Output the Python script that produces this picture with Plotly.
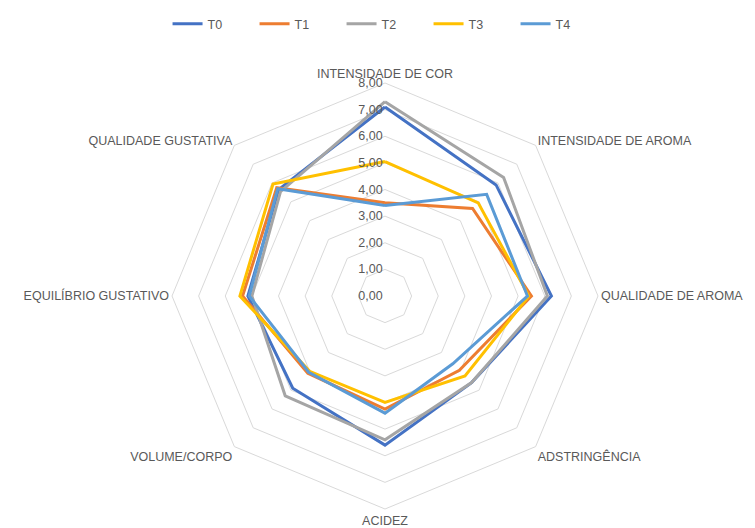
import plotly.graph_objects as go

categories = ["INTENSIDADE DE COR", "INTENSIDADE DE AROMA", "QUALIDADE DE AROMA",
              "ADSTRINGÊNCIA", "ACIDEZ", "VOLUME/CORPO",
              "EQUILÍBRIO GUSTATIVO", "QUALIDADE GUSTATIVA"]
series_names = ["T0", "T1", "T2", "T3", "T4"]
T0 = [7.10, 5.90, 6.25, 4.60, 5.60, 4.90, 5.15, 5.65]
T1 = [3.50, 4.65, 5.50, 3.95, 4.25, 4.10, 5.35, 5.75]
T2 = [7.30, 6.30, 6.10, 4.60, 5.40, 5.30, 5.00, 5.55]
T3 = [5.05, 4.95, 5.40, 4.25, 4.00, 4.00, 5.45, 5.95]
T4 = [3.40, 5.40, 5.35, 3.60, 4.40, 4.05, 5.10, 5.70]
radial_ticks = [0, 1, 2, 3, 4, 5, 6, 7, 8]

colors = ["#4472C4", "#ED7D31", "#A5A5A5", "#FFC000", "#5B9BD5"]
all_series = [T0, T1, T2, T3, T4]

W, H = 755, 528
cx, cy, R = 385, 296, 213

fig = go.Figure()
for name, vals, col in zip(series_names, all_series, colors):
    fig.add_trace(go.Scatterpolar(
        r=vals + vals[:1],
        theta=categories + categories[:1],
        mode="lines",
        name=name,
        line=dict(color=col, width=3),
    ))

fig.update_layout(
    width=W, height=H,
    margin=dict(l=0, r=0, t=0, b=0),
    paper_bgcolor="white",
    plot_bgcolor="white",
    separators=",.",
    font=dict(family="Liberation Sans", size=12.5, color="#595959"),
    legend=dict(orientation="h", x=0.51, xanchor="center", y=1 - 9 / H, yanchor="top",
                font=dict(size=12.5, color="#595959"), entrywidth=42, itemwidth=30),
    polar=dict(
        domain=dict(x=[(cx - R) / W, (cx + R) / W], y=[(H - cy - R) / H, (H - cy + R) / H]),
        gridshape="linear",
        bgcolor="white",
        radialaxis=dict(range=[0, 8], tickvals=radial_ticks, tickformat=".2f",
                        showline=False, ticks="", gridcolor="#D9D9D9", gridwidth=1,
                        angle=90, tickangle=90, side="counterclockwise",
                        tickfont=dict(size=12.5, color="#595959")),
        angularaxis=dict(rotation=90, direction="clockwise", showgrid=False,
                         showline=True, linecolor="#D9D9D9", linewidth=1, ticks="",
                         tickfont=dict(size=12.5, color="#595959")),
    ),
)

fig.write_html("out.html", config={"displayModeBar": False},
               post_script="document.body.style.margin='0';")
